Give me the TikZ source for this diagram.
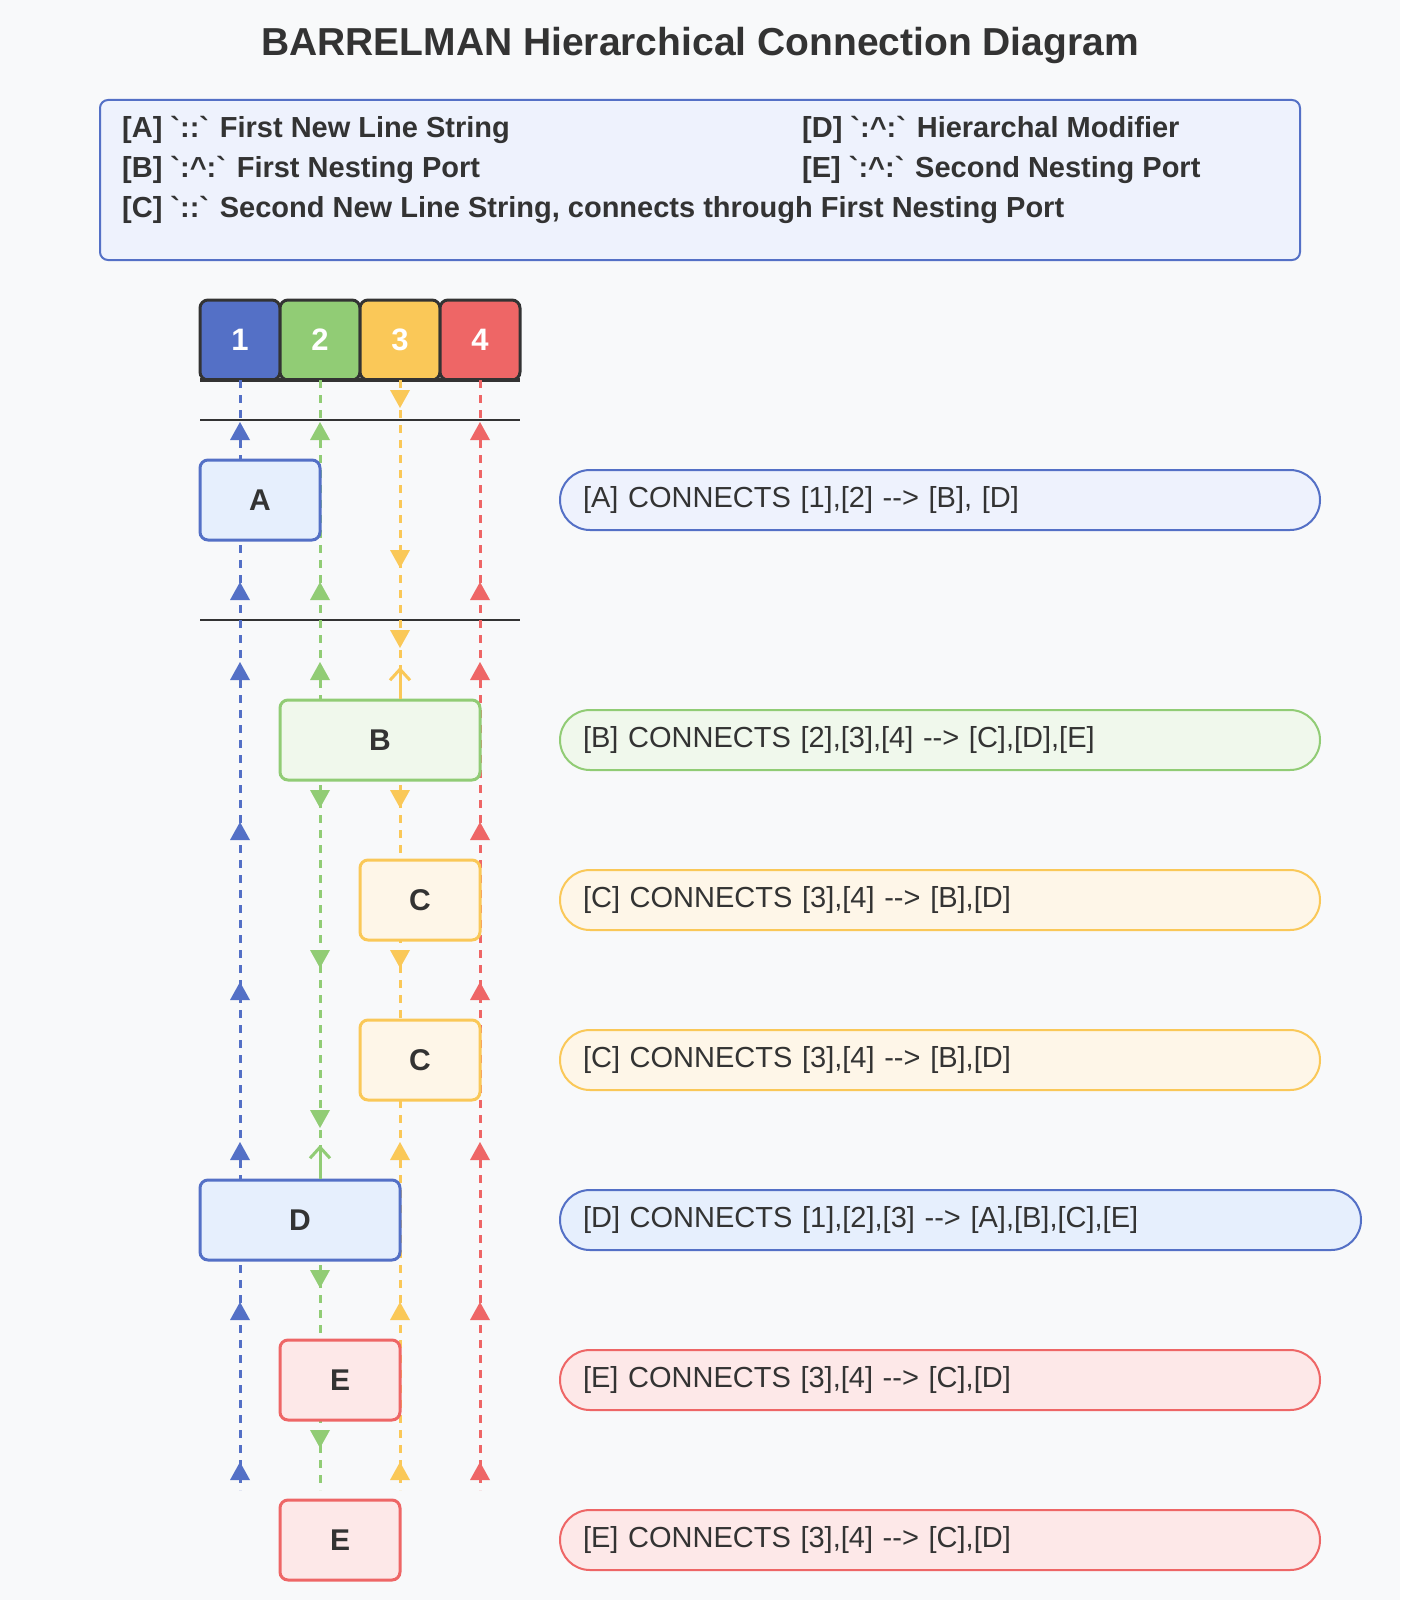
\documentclass[tikz,border=0pt]{standalone}
\usepackage{fontspec}
\setmainfont{Liberation Sans}
\usepackage{tikz}
\usetikzlibrary{arrows.meta,positioning}

\definecolor{bgcol}{HTML}{F8F9FA}
\definecolor{ink}{HTML}{333333}
\definecolor{cblue}{HTML}{5470C6}
\definecolor{cgreen}{HTML}{91CC75}
\definecolor{cyellow}{HTML}{FAC858}
\definecolor{cred}{HTML}{EE6666}
\definecolor{fblue}{HTML}{E6EFFD}
\definecolor{flegend}{HTML}{EEF2FD}
\definecolor{fgreen}{HTML}{F0F8EC}
\definecolor{fyellow}{HTML}{FEF6E8}
\definecolor{fred}{HTML}{FDE8E8}

\begin{document}
\begin{tikzpicture}[x=1pt,y=-1pt,
  port/.style={draw=ink, line width=3pt, rounded corners=8pt, minimum width=80pt,
    minimum height=80pt, inner sep=0pt, outer sep=0pt, text=white,
    font=\fontsize{31}{36}\selectfont\bfseries},
  blk/.style={line width=3pt, rounded corners=8pt, minimum height=80pt, inner sep=0pt,
    text=ink, font=\fontsize{30}{36}\selectfont\bfseries},
  pill/.style={line width=2pt, rounded corners=30pt, minimum height=60pt, anchor=west,
    inner xsep=23pt, align=left, text=ink, font=\fontsize{29}{32}\selectfont},
  legtext/.style={anchor=west, inner sep=0pt, text=ink, font=\fontsize{29}{32}\selectfont\bfseries},
  lane/.style={line width=3pt, dash pattern=on 8pt off 7pt},
  upmk/.pic={\fill (0,0) -- (-10,18) -- (10,18) -- cycle;},
  dnmk/.pic={\fill (0,0) -- (-10,-18) -- (10,-18) -- cycle;},
  feed/.style={line width=3pt, -{Straight Barb[length=11pt,width=20pt]}}]

%Background
\fill[bgcol] (0,0) rectangle (1400,1600);

%Title
\node[text=ink, font=\fontsize{39}{42}\selectfont\bfseries] (title) at (700,46)
  {BARRELMAN Hierarchical Connection Diagram};

%Legend
\draw[cblue, fill=flegend, line width=2pt, rounded corners=8pt] (100,100) rectangle (1300,260);
\node[legtext] (legA) at (122,130) {[A] \textasciigrave::\textasciigrave{} First New Line String};
\node[legtext] (legB) at (122,170) {[B] \textasciigrave:\textasciicircum:\textasciigrave{} First Nesting Port};
\node[legtext] (legC) at (122,210) {[C] \textasciigrave::\textasciigrave{} Second New Line String, connects through First Nesting Port};
\node[legtext] (legD) at (802,130) {[D] \textasciigrave:\textasciicircum:\textasciigrave{} Hierarchal Modifier};
\node[legtext] (legE) at (802,170) {[E] \textasciigrave:\textasciicircum:\textasciigrave{} Second Nesting Port};

%Ports
\node[port, fill=cblue] (h1) at (240,340) {1};
\node[port, fill=cgreen, right=0pt of h1] (h2) {2};
\node[port, fill=cyellow, right=0pt of h2] (h3) {3};
\node[port, fill=cred, right=0pt of h3] (h4) {4};
\draw[ink, line width=3.5pt] (h1.south west) -- (h4.south east);

%Separators
\draw[ink, line width=2pt] (h1.south west |- 0,420) -- (h4.south east |- 0,420);
\draw[ink, line width=2pt] (h1.south west |- 0,620) -- (h4.south east |- 0,620);

%Lanes
\coordinate (floor) at (0,1490);
\draw[lane, cblue] (h1.south) -- (h1.south |- floor);
\draw[lane, cgreen] (h2.south) -- (h2.south |- floor);
\draw[lane, cyellow] (h3.south) -- (h3.south |- floor);
\draw[lane, cred] (h4.south) -- (h4.south |- floor);

%Markers
\foreach \s in {380,540,620} {
  \pic[cyellow] at (400,\s+28) {dnmk};
  \foreach \x/\c in {240/cblue,320/cgreen,480/cred} \pic[\c] at (\x,\s+42) {upmk};
}
\foreach \s in {780,940} {
  \foreach \x/\c in {320/cgreen,400/cyellow} \pic[\c] at (\x,\s+28) {dnmk};
  \foreach \x/\c in {240/cblue,480/cred} \pic[\c] at (\x,\s+42) {upmk};
}
\foreach \s in {1100,1260,1420} {
  \pic[cgreen] at (320,\s+28) {dnmk};
  \foreach \x/\c in {240/cblue,400/cyellow,480/cred} \pic[\c] at (\x,\s+42) {upmk};
}

%Blocks
\node[blk, draw=cblue, fill=fblue, minimum width=120pt] (A) at (260,500) {A};
\node[blk, draw=cgreen, fill=fgreen, minimum width=200pt] (B) at (380,740) {B};
\node[blk, draw=cyellow, fill=fyellow, minimum width=120pt] (C1) at (420,900) {C};
\node[blk, draw=cyellow, fill=fyellow, minimum width=120pt] (C2) at (420,1060) {C};
\node[blk, draw=cblue, fill=fblue, minimum width=200pt] (D) at (300,1220) {D};
\node[blk, draw=cred, fill=fred, minimum width=120pt] (E1) at (340,1380) {E};
\node[blk, draw=cred, fill=fred, minimum width=120pt] (E2) at (340,1540) {E};

%Feedback
\coordinate (bup) at (400,667);
\coordinate (dup) at (320,1145);
\draw[feed, cyellow] (B.north -| bup) -- (bup);
\draw[feed, cgreen] (D.north -| dup) -- (dup);

%Notes
\node[pill, draw=cblue, fill=flegend, text width=714pt] (pA) at (559,500) {[A] CONNECTS [1],[2] -{}-> [B], [D]};
\node[pill, draw=cgreen, fill=fgreen, text width=714pt] (pB) at (559,740) {[B] CONNECTS [2],[3],[4] -{}-> [C],[D],[E]};
\node[pill, draw=cyellow, fill=fyellow, text width=714pt] (pC1) at (559,900) {[C] CONNECTS [3],[4] -{}-> [B],[D]};
\node[pill, draw=cyellow, fill=fyellow, text width=714pt] (pC2) at (559,1060) {[C] CONNECTS [3],[4] -{}-> [B],[D]};
\node[pill, draw=cblue, fill=fblue, text width=755pt] (pD) at (559,1220) {[D] CONNECTS [1],[2],[3] -{}-> [A],[B],[C],[E]};
\node[pill, draw=cred, fill=fred, text width=714pt] (pE1) at (559,1380) {[E] CONNECTS [3],[4] -{}-> [C],[D]};
\node[pill, draw=cred, fill=fred, text width=714pt] (pE2) at (559,1540) {[E] CONNECTS [3],[4] -{}-> [C],[D]};

\end{tikzpicture}
\end{document}
